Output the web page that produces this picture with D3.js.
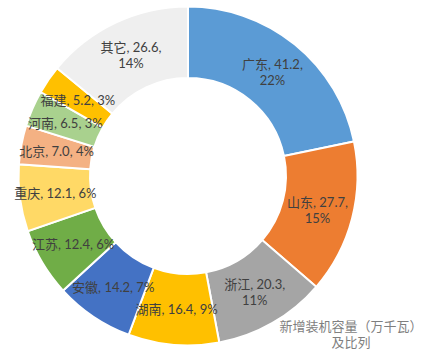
<!DOCTYPE html>
<html>
<head>
<meta charset="utf-8">
<script src="https://cdn.jsdelivr.net/npm/d3@7"></script>
<style>
  body { margin: 0; background: #fff; }
  svg text { font-family: Lato, "Noto Sans CJK SC", sans-serif; }
</style>
</head>
<body>
<div id="chart"></div>
<script>
// provinces and new capacity (万千瓦)
var provinces = ["广东", "山东", "浙江", "湖南", "安徽", "江苏", "重庆", "北京", "河南", "福建", "其它"];
var capacity = [41.2, 27.7, 20.3, 16.4, 14.2, 12.4, 12.1, 7.0, 6.5, 5.2, 26.6];
var shares = ["22%", "15%", "11%", "9%", "7%", "6%", "6%", "4%", "3%", "3%", "14%"];
var colors = ["#5B9BD5", "#ED7D31", "#A5A5A5", "#FFC000", "#4472C4", "#70AD47",
              "#FFD966", "#F4B183", "#A9D18E", "#FFC000", "#EFEFEF"];
var titleLines = ["新增装机容量（万千瓦）", "及比列"];

var width = 422, height = 358;
var cx = 188, cy = 176;
var outerR = 169.5, innerR = 98;

var svg = d3.select("#chart").append("svg")
  .attr("width", width)
  .attr("height", height);

var data = provinces.map(function(p, i) {
  return { name: p, value: capacity[i], share: shares[i], color: colors[i] };
});

var pie = d3.pie()
  .value(function(d) { return d.value; })
  .sort(null)
  .startAngle(0)
  .endAngle(2 * Math.PI);

var arc = d3.arc().innerRadius(innerR).outerRadius(outerR);

var g = svg.append("g").attr("transform", "translate(" + cx + "," + cy + ")");

var slices = pie(data);

g.selectAll("path")
  .data(slices)
  .enter()
  .append("path")
    .attr("d", arc)
    .attr("fill", function(d) { return d.data.color; })
    .attr("stroke", "white")
    .attr("stroke-width", 2);

// labels at the middle of the ring, big slices wrap onto two lines
var labels = g.selectAll("text.lbl")
  .data(slices)
  .enter()
  .append("text")
    .attr("class", "lbl")
    .attr("transform", function(d) { return "translate(" + arc.centroid(d) + ")"; })
    .attr("text-anchor", "middle")
    .attr("font-size", 13)
    .attr("fill", "#404040");

labels.each(function(d) {
  var t = d3.select(this);
  if (d.data.value >= 20) {
    t.append("tspan").attr("x", 0).attr("y", -3).text(d.data.name + ", " + d.data.value.toFixed(1) + ",");
    t.append("tspan").attr("x", 0).attr("y", 13).text(d.data.share);
  } else {
    t.append("tspan").attr("x", 0).attr("y", 5).text(d.data.name + ", " + d.data.value.toFixed(1) + ", " + d.data.share);
  }
});

svg.append("text")
  .attr("x", 351)
  .attr("y", 331)
  .attr("text-anchor", "middle")
  .attr("font-size", 13)
  .attr("fill", "#7f7f7f")
  .selectAll("tspan")
  .data(titleLines)
  .enter()
  .append("tspan")
    .attr("x", 351)
    .attr("dy", function(d, i) { return i === 0 ? 0 : 16; })
    .text(function(d) { return d; });
</script>
</body>
</html>
